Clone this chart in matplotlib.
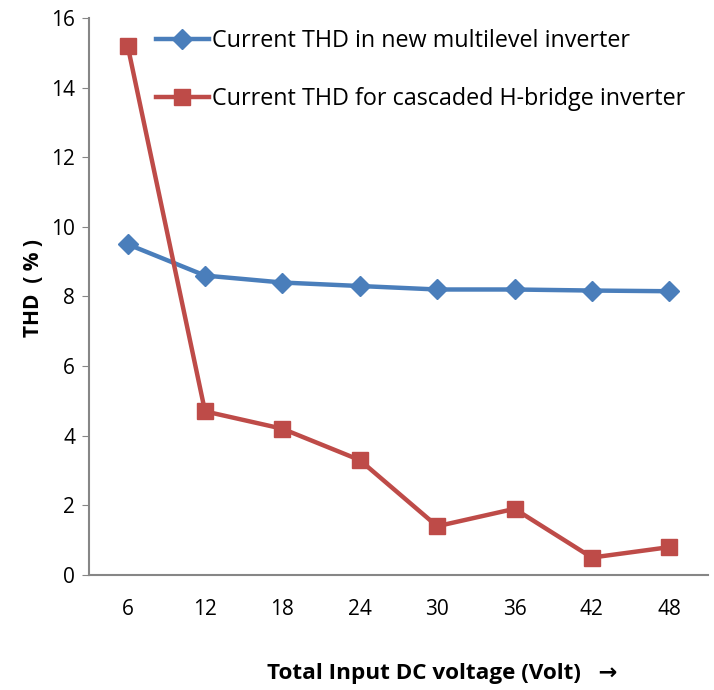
import numpy as np
import matplotlib.pyplot as plt

plt.rcParams['font.family'] = ['Open Sans', 'DejaVu Sans']

# data
voltage = ['6', '12', '18', '24', '30', '36', '42', '48']
thd_new = [9.5, 8.6, 8.4, 8.3, 8.2, 8.2, 8.17, 8.15]
thd_chb = [15.2, 4.7, 4.2, 3.3, 1.4, 1.9, 0.5, 0.8]
yticks = [0, 2, 4, 6, 8, 10, 12, 14, 16]

blue = '#4A7EBB'
red = '#BE4B48'
grey = '#868686'

fig = plt.figure(figsize=(7.14, 6.90), dpi=100)
ax = fig.add_axes([0.1246, 0.1667, 0.867, 0.8073])

x = np.arange(len(voltage))
ax.plot(x, thd_new, color=blue, lw=3.2, marker='D', ms=10.5,
        label='Current THD in new multilevel inverter')
ax.plot(x, thd_chb, color=red, lw=3.2, marker='s', ms=12,
        label='Current THD for cascaded H-bridge inverter')

ax.set_xlim(-0.5, len(voltage) - 0.5)
ax.set_ylim(0, 16)
ax.set_xticks(x)
ax.set_xticklabels(voltage)
ax.set_yticks(yticks)
ax.tick_params(axis='y', length=5, color=grey, labelsize=15, pad=5)
ax.tick_params(axis='x', length=0, labelsize=15, pad=17)

for s in ['top', 'right']:
    ax.spines[s].set_visible(False)
for s in ['left', 'bottom']:
    ax.spines[s].set_color(grey)
    ax.spines[s].set_linewidth(1.5)

ax.set_ylabel('THD  ( % )', fontsize=15, fontweight='bold')
ax.yaxis.set_label_coords(-0.072, 0.515)
fig.text(0.619, 0.008, 'Total Input DC voltage (Volt)   \u2192', fontsize=16.2,
         fontweight='bold', ha='center', va='bottom')

leg = ax.legend(loc='upper left', bbox_to_anchor=(0.085, 1.005), frameon=False,
                fontsize=16.8, handlelength=2.3, handletextpad=0.1,
                labelspacing=1.45, borderaxespad=0.2)

fig.savefig('out.png', dpi=100)
